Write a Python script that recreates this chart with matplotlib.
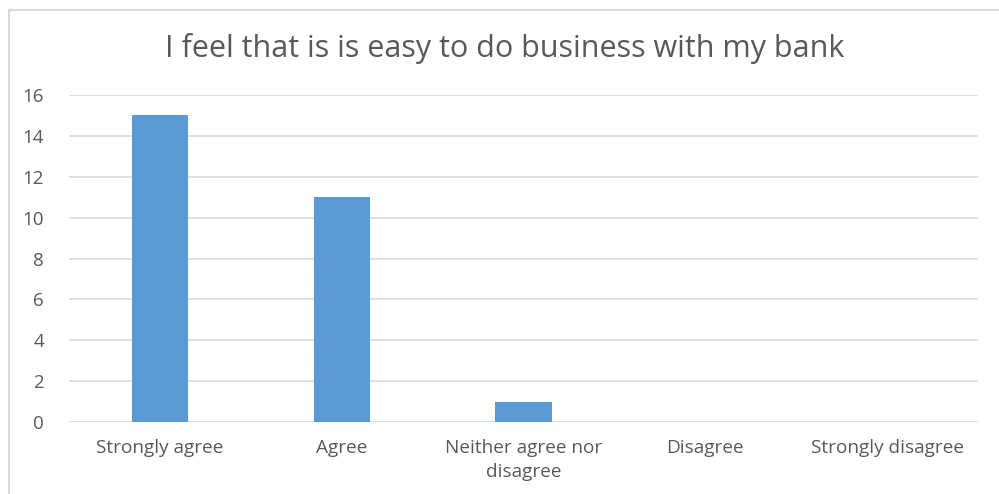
import matplotlib.pyplot as plt
from matplotlib.lines import Line2D

# survey responses
categories = ["Strongly agree", "Agree", "Neither agree nor\ndisagree", "Disagree", "Strongly disagree"]
counts = [15, 11, 1, 0, 0]
yticks = [0, 2, 4, 6, 8, 10, 12, 14, 16]

plt.rcParams['font.family'] = ['Open Sans', 'DejaVu Sans']
txt = '#595959'
grid = '#d9d9d9'

fig = plt.figure(figsize=(9.99, 4.94), dpi=100)
ax = fig.add_axes([69/999, 1 - 422/494, 909/999, 327/494])

x = range(len(categories))
ax.bar(x, counts, width=0.31, color='#5b9bd5', zorder=3)

ax.set_xlim(-0.5, len(categories) - 0.5)
ax.set_ylim(0, 16)
ax.set_yticks(yticks)
ax.set_xticks(list(x))
ax.set_xticklabels(categories, fontsize=13.7, color=txt, linespacing=1.45)
ax.tick_params(axis='y', labelsize=13.5, labelcolor=txt, length=0, pad=18)
ax.tick_params(axis='x', length=0, pad=12)
ax.grid(axis='y', color=grid, linewidth=1.2, zorder=0)
for s in ax.spines.values():
    s.set_visible(False)

fig.text(505/999, 1 - 48/494, "I feel that is is easy to do business with my bank",
         ha='center', va='center', fontsize=22, color=txt)

# chart frame (left and top edges)
fig.add_artist(Line2D([9/999, 9/999], [0, 1 - 10/494], transform=fig.transFigure, color=grid, lw=1.5))
fig.add_artist(Line2D([9/999, 1], [1 - 10/494, 1 - 10/494], transform=fig.transFigure, color=grid, lw=1.5))

fig.savefig('out.png', dpi=100)
